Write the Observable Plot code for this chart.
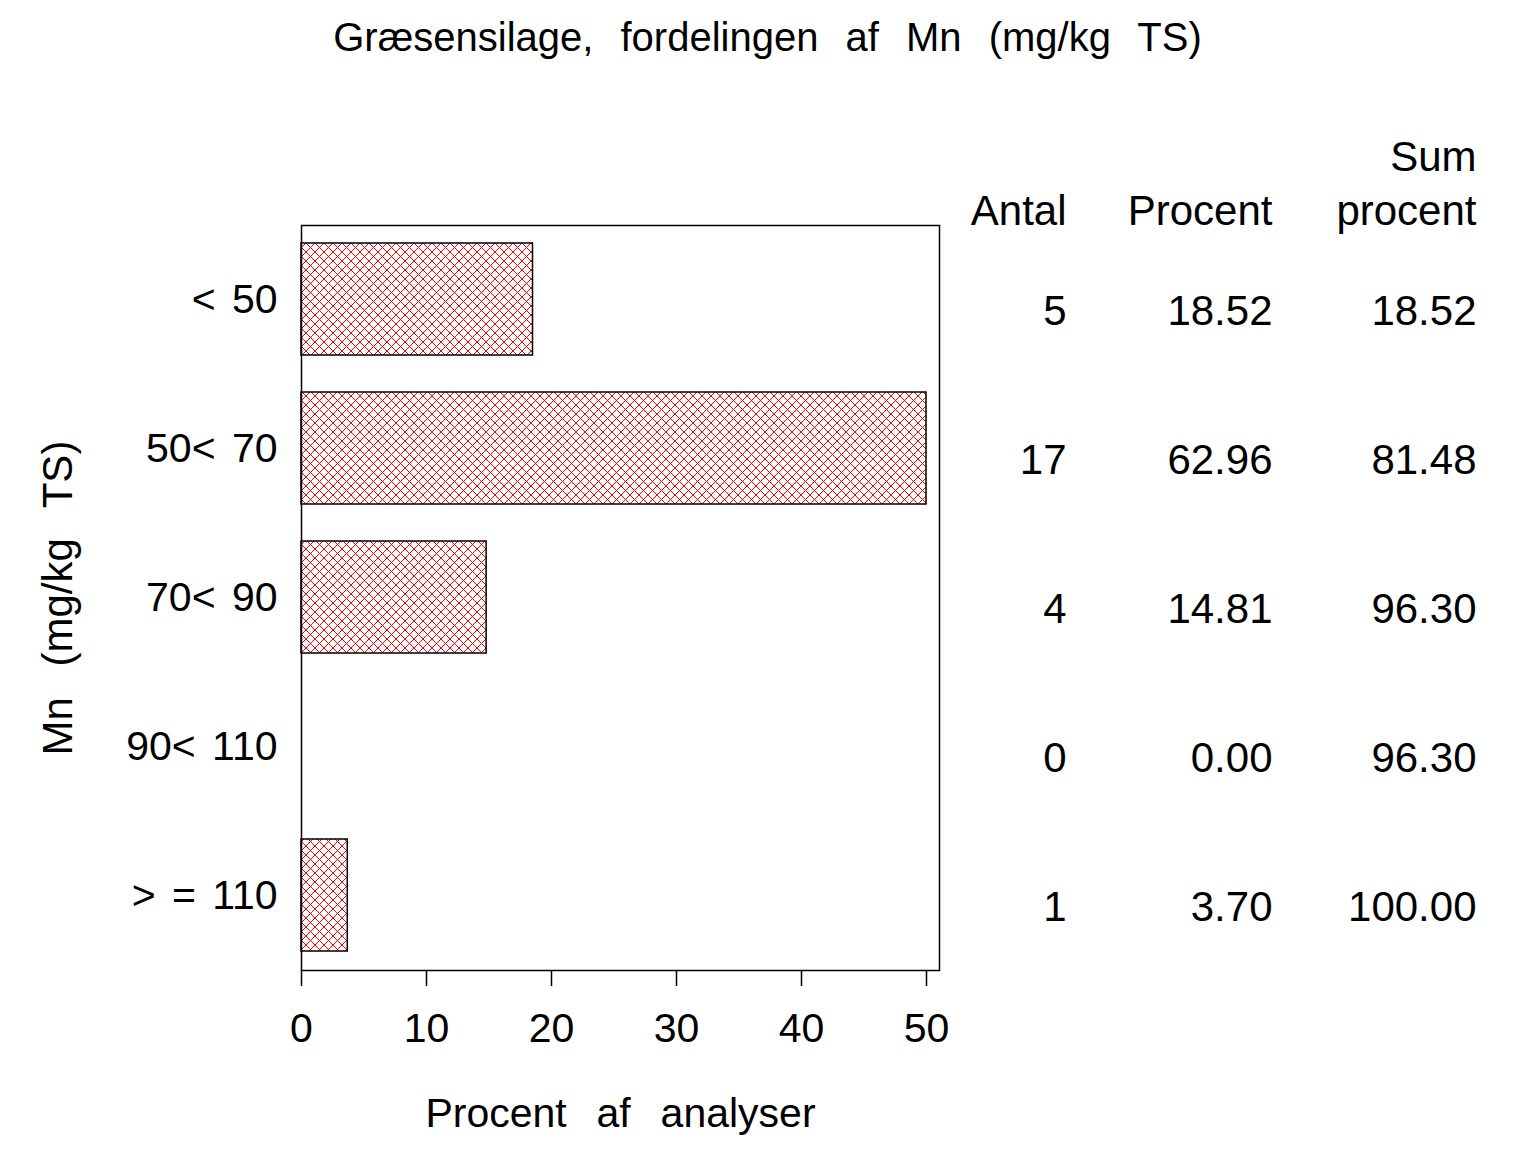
<!DOCTYPE html>
<html><head><meta charset="utf-8">
<script src="https://cdn.jsdelivr.net/npm/d3@7"></script>
<script src="https://cdn.jsdelivr.net/npm/@observablehq/plot@0.6"></script>
<style>
body{margin:0;background:#fff;}
svg text{font-family:"Liberation Sans", Arial, sans-serif;}
</style></head><body><div id="chart"></div>
<script>
const categories = ["< 50", "50< 70", "70< 90", "90< 110", "> = 110"];
const antal = [5, 17, 4, 0, 1];
const procent = [18.52, 62.96, 14.81, 0.00, 3.70];
const sumProcent = [18.52, 81.48, 96.30, 96.30, 100.00];
const xTicks = [0, 10, 20, 30, 40, 50];
const xAxisMax = 50;
const title = "Græsensilage, fordelingen af Mn (mg/kg TS)";
const xLabel = "Procent af analyser";
const yLabel = "Mn (mg/kg TS)";
const headers = ["Antal", "Procent", "procent"];
const headerTop = "Sum";

const rows = categories.map((c, i) => ({cat: c, n: antal[i], pct: procent[i], cum: sumProcent[i]}));
const colDx = [127, 333, 537];

const plot = Plot.plot({
  width: 1536, height: 1152,
  marginLeft: 301, marginRight: 597, marginTop: 225, marginBottom: 182,
  style: {fontSize: "41px", fontFamily: "Liberation Sans, Arial, sans-serif", color: "black", background: "white"},
  x: {domain: [0, 51.04]},
  y: {type: "band", domain: categories, paddingInner: 0.248, paddingOuter: 0.124},
  marks: [
    Plot.barX(rows.filter(d => d.pct > 0), {y: "cat", x1: 0, x2: d => Math.min(d.pct, xAxisMax), fill: "url(#hatch)", stroke: "black", strokeWidth: 1.5}),
    Plot.frame({stroke: "black", strokeWidth: 1.5}),
    Plot.axisX({ticks: xTicks, tickSize: 16, tickPadding: 26, label: null, strokeWidth: 1.5}),
    Plot.axisY({tickSize: 0, tickPadding: 24, label: null}),
    Plot.text(rows, {y: "cat", text: d => String(d.n), frameAnchor: "right", dx: colDx[0], dy: 12, textAnchor: "end", fontSize: 42}),
    Plot.text(rows, {y: "cat", text: d => d.pct.toFixed(2), frameAnchor: "right", dx: colDx[1], dy: 12, textAnchor: "end", fontSize: 42}),
    Plot.text(rows, {y: "cat", text: d => d.cum.toFixed(2), frameAnchor: "right", dx: colDx[2], dy: 12, textAnchor: "end", fontSize: 42}),
    ...headers.map((h, i) => Plot.text([h], {text: d => d, frameAnchor: "top-right", dx: colDx[i], dy: -14, textAnchor: "end", lineAnchor: "middle", fontSize: 42})),
    Plot.text([headerTop], {text: d => d, frameAnchor: "top-right", dx: colDx[2], dy: -68, textAnchor: "end", lineAnchor: "middle", fontSize: 42}),
    Plot.text([title], {text: d => d, frameAnchor: "top", dx: 147, dy: -187, fontSize: 40, lineAnchor: "middle"}),
    Plot.text([xLabel], {text: d => d, frameAnchor: "bottom", dy: 143, lineAnchor: "middle"}),
    Plot.text([yLabel], {text: d => d, frameAnchor: "left", dx: -243, rotate: -90, textAnchor: "middle", lineAnchor: "middle", fontSize: 42})
  ]
});

const ns = "http://www.w3.org/2000/svg";
const defs = document.createElementNS(ns, "defs");
defs.innerHTML = '<pattern id="hatch" patternUnits="userSpaceOnUse" width="9" height="9"><rect width="9" height="9" fill="white"/><path d="M0,0L9,9M9,0L0,9" stroke="red" stroke-width="1" fill="none"/></pattern>';
plot.insertBefore(defs, plot.firstChild);
plot.querySelectorAll("text").forEach(t => {
  const s = t.textContent;
  if (s === title) t.style.wordSpacing = "16px";
  else if (s === xLabel) t.style.wordSpacing = "0.45em";
  else if (s === yLabel) t.style.wordSpacing = "0.45em";
  else if (categories.includes(s)) t.style.wordSpacing = "0.12em";
});
document.getElementById("chart").appendChild(plot);
</script></body></html>
